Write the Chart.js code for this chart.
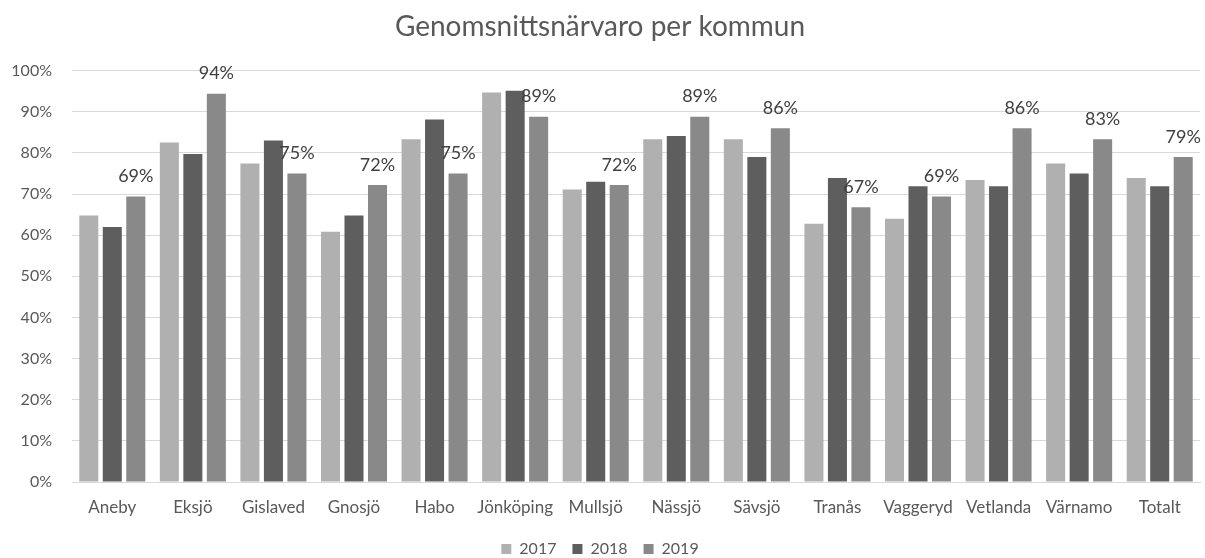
<!DOCTYPE html>
<html>
<head>
<meta charset="utf-8">
<script src="https://cdn.jsdelivr.net/npm/chart.js@4"></script>
<style>
  html, body { margin: 0; padding: 0; background: #fff; }
  #wrap { width: 1205px; height: 558px; }
</style>
</head>
<body>
<div id="wrap"><canvas id="chart"></canvas></div>
<script>
// Genomsnittsnärvaro per kommun, 2017-2019

const KOMMUNER = ['Aneby', 'Eksjö', 'Gislaved', 'Gnosjö', 'Habo', 'Jönköping', 'Mullsjö',
  'Nässjö', 'Sävsjö', 'Tranås', 'Vaggeryd', 'Vetlanda', 'Värnamo', 'Totalt'];

const Y2017 = [64.8, 82.5, 77.4, 60.8, 83.3, 94.7, 71.1, 83.3, 83.3, 62.8, 64.0, 73.4, 77.4, 73.9];
const Y2018 = [62.0, 79.7, 83.0, 64.8, 88.1, 95.1, 73.0, 84.1, 79.0, 73.9, 71.9, 71.9, 75.0, 71.9];
const Y2019 = [69.4, 94.4, 75.0, 72.2, 75.0, 88.8, 72.2, 88.8, 86.0, 66.8, 69.4, 86.0, 83.3, 79.0];

const SERIES = ['2017', '2018', '2019'];
const COLORS = ['#b0b0b0', '#5e5e5e', '#898989'];
const Y_TICKS = [0, 10, 20, 30, 40, 50, 60, 70, 80, 90, 100];

const FONT = 'Lato, "Open Sans", sans-serif';
const TEXT = '#595959';

// only the 2019 series carries value labels in the original
const valueLabels = {
  id: 'valueLabels',
  afterDatasetsDraw(chart) {
    const ctx = chart.ctx;
    const meta = chart.getDatasetMeta(2);
    ctx.save();
    ctx.font = '18px ' + FONT;
    ctx.fillStyle = '#404040';
    ctx.textAlign = 'center';
    ctx.textBaseline = 'middle';
    meta.data.forEach((bar, i) => {
      ctx.fillText(Math.round(Y2019[i]) + '%', bar.x, bar.y - 20);
    });
    ctx.restore();
  },
};

// legend padding also sets the item spacing; trim the box height so the row sits low
const shortLegend = {
  id: 'shortLegend',
  beforeUpdate(chart) {
    const lg = chart.legend;
    if (!lg || lg._patched) return;
    const fit = lg.fit;
    lg.fit = function () {
      fit.call(this);
      this.height -= 9;
    };
    lg._patched = true;
  },
};

new Chart(document.getElementById('chart'), {
  type: 'bar',
  data: {
    labels: KOMMUNER,
    datasets: [Y2017, Y2018, Y2019].map((vals, i) => ({
      label: SERIES[i],
      data: vals,
      backgroundColor: COLORS[i],
      categoryPercentage: 0.875,
      barPercentage: 0.81,
    })),
  },
  options: {
    responsive: true,
    maintainAspectRatio: false,
    animation: false,
    layout: { padding: { left: 0, right: 5, top: 0, bottom: 0 } },
    plugins: {
      title: {
        display: true,
        text: 'Genomsnittsnärvaro per kommun',
        color: TEXT,
        font: { family: FONT, size: 28, weight: 'normal' },
        padding: { top: 10, bottom: 27 },
      },
      legend: {
        position: 'bottom',
        labels: {
          color: TEXT,
          font: { family: FONT, size: 16 },
          boxWidth: 10,
          boxHeight: 10,
          padding: 16,
        },
      },
      tooltip: { enabled: false },
    },
    scales: {
      x: {
        afterFit: scale => { scale.height = 43; },
        grid: { display: false, drawTicks: false },
        border: { color: '#d9d9d9' },
        ticks: { color: TEXT, font: { family: FONT, size: 17 }, padding: 15, maxRotation: 0 },
      },
      y: {
        min: 0,
        max: 100,
        afterBuildTicks: scale => { scale.ticks = Y_TICKS.map(v => ({ value: v })); },
        afterFit: scale => { scale.width = 72; },
        grid: { color: '#d9d9d9', drawTicks: false },
        border: { display: false },
        ticks: {
          color: TEXT,
          font: { family: FONT, size: 16 },
          padding: 20,
          callback: v => v + '%',
        },
      },
    },
  },
  plugins: [shortLegend, valueLabels],
});
</script>
</body>
</html>
